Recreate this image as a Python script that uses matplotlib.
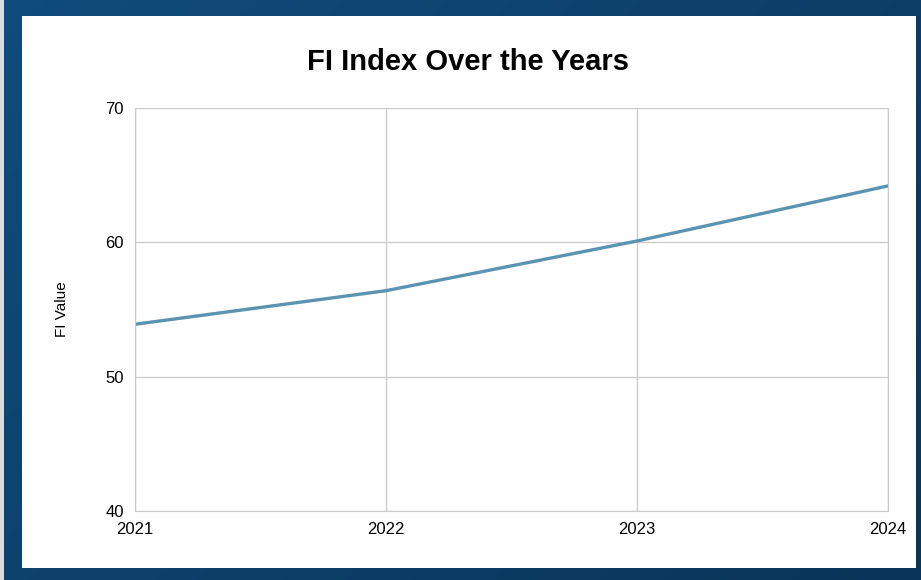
import matplotlib.pyplot as plt
import numpy as np
from matplotlib.patches import Rectangle

plt.rcParams['font.family'] = ['Liberation Sans', 'DejaVu Sans']

# data
years = [2021, 2022, 2023, 2024]
fi_values = [53.9, 56.4, 60.1, 64.2]
y_ticks = [40, 50, 60, 70]

fig = plt.figure(figsize=(9.21, 5.80), dpi=100)

# dark blue frame with a soft gradient
bg = fig.add_axes([0, 0, 1, 1])
gx = np.linspace(0, 1, 200)
gy = np.linspace(0, 1, 200)
GX, GY = np.meshgrid(gx, gy)
grad = 0.6 * GX + 0.4 * GY
c1 = np.array([0x10, 0x4c, 0x7c]) / 255
c2 = np.array([0x0a, 0x34, 0x58]) / 255
img = c1[None, None, :] * (1 - grad[..., None]) + c2[None, None, :] * grad[..., None]
bg.imshow(img, extent=[0, 1, 0, 1], aspect='auto', origin='upper')
bg.add_patch(Rectangle((0, 0), 4 / 921, 1, color='#d8dde2', lw=0))
bg.add_patch(Rectangle((22 / 921, 12 / 580), (916 - 22) / 921, (568 - 16) / 580,
                       color='white', lw=0))
bg.set_xlim(0, 1)
bg.set_ylim(0, 1)
bg.axis('off')

ax = fig.add_axes([135 / 921, 1 - 511 / 580, (888 - 135) / 921, (511 - 108) / 580])
ax.plot(years, fi_values, color='#5b94b1', lw=2.4, solid_capstyle='round')

ax.set_xlim(years[0], years[-1])
ax.set_ylim(y_ticks[0], y_ticks[-1])
ax.set_xticks(years)
ax.set_yticks(y_ticks)
ax.tick_params(length=0, labelsize=12, pad=8)
ax.grid(True, color='#cccccc', lw=1)
ax.set_axisbelow(True)
for s in ax.spines.values():
    s.set_color('#cccccc')
ax.spines['top'].set_visible(False)

ax.set_ylabel('FI Value', fontsize=11, labelpad=26)

fig.text(468 / 921, 1 - 62 / 580, 'FI Index Over the Years', ha='center', va='center',
         fontsize=21, fontweight='bold')

fig.savefig('out.png', dpi=100)
